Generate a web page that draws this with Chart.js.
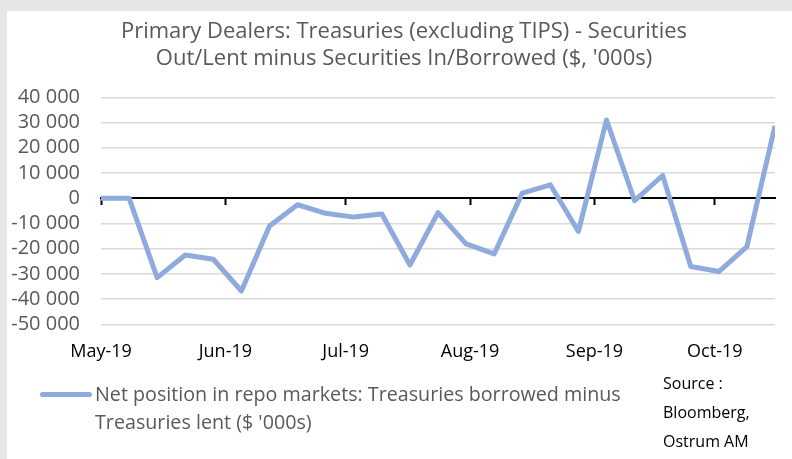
<!DOCTYPE html>
<html>
<head>
<meta charset="utf-8">
<script src="https://cdn.jsdelivr.net/npm/chart.js@4.4.0/dist/chart.umd.min.js"></script>
<style>
html,body{margin:0;padding:0;}
body{width:792px;height:459px;background:#e6e6e6;position:relative;overflow:hidden;font-family:"Open Sans",sans-serif;}
#panel{position:absolute;left:7px;top:11px;right:0;bottom:0;background:#ffffff;}
#c{position:absolute;left:0;top:0;}
#swatch{position:absolute;left:40px;top:391.5px;width:52px;height:5px;border-radius:2.5px;background:#8faadc;}
#legendText{position:absolute;left:95px;top:380px;width:545px;font-size:19.7px;line-height:27.7px;color:#595959;white-space:normal;}
#source{position:absolute;left:663px;top:368.5px;font-size:16px;line-height:29px;color:#000;}
</style>
</head>
<body>
<div id="panel"></div>
<canvas id="c" width="792" height="459"></canvas>
<div id="swatch"></div>
<div id="legendText"></div>
<div id="source"></div>
<script>
// ---- data ----
const titleLines = ['Primary Dealers: Treasuries (excluding TIPS) - Securities', "Out/Lent minus Securities In/Borrowed ($, '000s)"];
const seriesName = "Net position in repo markets: Treasuries borrowed minus Treasuries lent ($ '000s)";
const sourceLines = ['Source :', 'Bloomberg,', 'Ostrum AM'];
const weekDates = ['2019-05-01','2019-05-08','2019-05-15','2019-05-22','2019-05-29',
                   '2019-06-05','2019-06-12','2019-06-19','2019-06-26',
                   '2019-07-03','2019-07-10','2019-07-17','2019-07-24','2019-07-31',
                   '2019-08-07','2019-08-14','2019-08-21','2019-08-28',
                   '2019-09-04','2019-09-11','2019-09-18','2019-09-25',
                   '2019-10-02','2019-10-09','2019-10-16'];
const netPosition = [0, 0, -31500, -22500, -24200, -36800, -11000, -2600, -6000, -7500, -6300,
                     -26500, -5700, -18100, -22100, 2000, 5300, -13200, 31000, -1000, 9000,
                     -27100, -29100, -19200, 28700];
const monthStarts = ['2019-05-01','2019-06-01','2019-07-01','2019-08-01','2019-09-01','2019-10-01'];
const monthLabels = ['May-19','Jun-19','Jul-19','Aug-19','Sep-19','Oct-19'];
const yTicks = [40000, 30000, 20000, 10000, 0, -10000, -20000, -30000, -40000, -50000];

// ---- helpers ----
const DAY = 86400000;
const origin = Date.parse(weekDates[0]);
const dayOf = d => (Date.parse(d) - origin) / DAY;
const points = weekDates.map((d, i) => ({x: dayOf(d), y: netPosition[i]}));
const monthTickValues = monthStarts.map(dayOf);
const xMin = dayOf(weekDates[0]);
const xMax = dayOf(weekDates[weekDates.length - 1]);
function fmt(v) {
  const s = Math.abs(v).toString().replace(/\B(?=(\d{3})+(?!\d))/g, ' ');
  return (v < 0 ? '-' : '') + s;
}
const monthTicks = s => { s.ticks = monthTickValues.map(v => ({value: v})); };

document.getElementById('legendText').textContent = seriesName;
document.getElementById('source').innerHTML = sourceLines.map(t => t.replace(/&/g,'&amp;').replace(/</g,'&lt;')).join('<br>');

const FONT = '"Open Sans", sans-serif';

// centre the title over the white panel area rather than the full canvas
const titleShift = {
  id: 'titleShift',
  afterLayout(chart) {
    const t = chart.titleBlock;
    if (t) { t.left += 33; }
  }
};

new Chart(document.getElementById('c'), {
  type: 'line',
  plugins: [titleShift],
  data: {
    datasets: [{
      label: seriesName,
      data: points,
      borderColor: '#8faadc',
      backgroundColor: '#8faadc',
      borderWidth: 5,
      pointRadius: 0,
      tension: 0,
      borderJoinStyle: 'round',
      fill: false,
      xAxisID: 'x',
      yAxisID: 'y'
    }]
  },
  options: {
    responsive: false,
    animation: false,
    devicePixelRatio: 1,
    layout: {padding: {left: 0, right: 17, top: 0, bottom: 94.7}},
    plugins: {
      legend: {display: false},
      tooltip: {enabled: false},
      title: {
        display: true,
        text: titleLines,
        color: '#595959',
        font: {family: FONT, size: 22, weight: 'normal', lineHeight: 1.2},
        padding: {top: 19, bottom: 25.5}
      }
    },
    scales: {
      x: {
        type: 'linear',
        min: xMin, max: xMax,
        afterBuildTicks: monthTicks,
        afterFit: s => { s.height = 40; },
        border: {display: false},
        grid: {display: false, drawTicks: false},
        ticks: {
          autoSkip: false, maxRotation: 0, padding: 17,
          color: '#000',
          font: {family: FONT, size: 18, lineHeight: 1.2},
          callback: v => { const i = monthTickValues.indexOf(v); return i >= 0 ? monthLabels[i] : ''; }
        }
      },
      x2: {
        type: 'linear',
        axis: 'x',
        position: {y: 0},
        min: xMin, max: xMax,
        afterBuildTicks: monthTicks,
        ticks: {display: false},
        grid: {display: true, drawOnChartArea: false, drawTicks: true, tickLength: 6, tickWidth: 2, tickColor: '#000'},
        border: {display: true, color: '#000', width: 2}
      },
      y: {
        type: 'linear',
        min: Math.min(...yTicks), max: Math.max(...yTicks),
        afterBuildTicks: s => { s.ticks = yTicks.map(v => ({value: v})); },
        afterFit: s => { s.width = 101; },
        border: {display: false},
        grid: {
          drawTicks: false,
          color: c => (c.tick && c.tick.value === 0) ? '#000' : '#d9d9d9',
          lineWidth: c => (c.tick && c.tick.value === 0) ? 2 : 1.5
        },
        ticks: {
          autoSkip: false,
          padding: 21,
          color: '#595959',
          font: {family: FONT, size: 20, lineHeight: 1.2},
          callback: v => fmt(v)
        }
      }
    }
  }
});
</script>
</body>
</html>
